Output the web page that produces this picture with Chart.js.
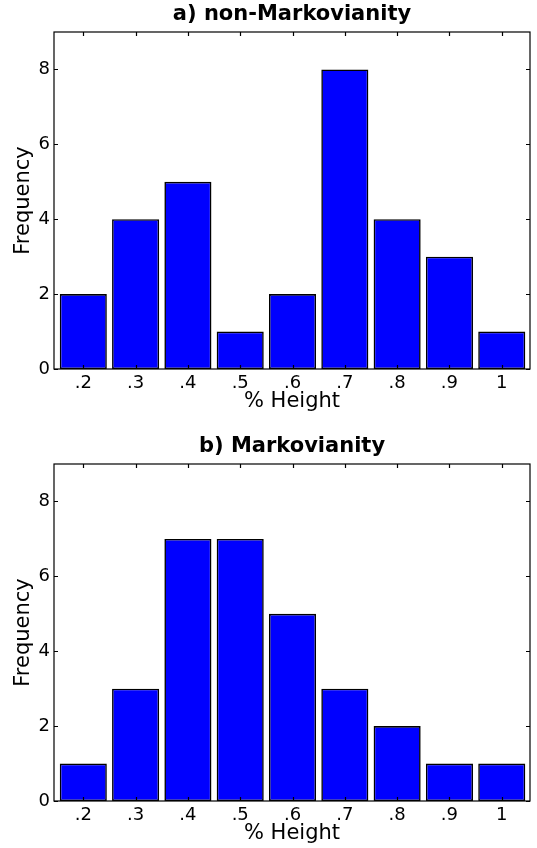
<!DOCTYPE html>
<html lang="en">
<head>
    <meta charset="UTF-8">
    <title>Markovianity histograms</title>
    <script src="https://cdn.jsdelivr.net/npm/chart.js"></script>
    <style>
        html, body {
            margin: 0;
            padding: 0;
            background: #fff;
            overflow: hidden;
            width: 537px;
            height: 848px;
        }
        canvas {
            position: absolute;
            left: 0;
        }
        #chartA { top: 0; }
        #chartB { top: 432px; }
    </style>
</head>
<body>
    <canvas id="chartA" width="537" height="432"></canvas>
    <canvas id="chartB" width="537" height="432"></canvas>

    <script>
        // bin centres (% height) and their tick labels
        const bins = [0.2, 0.3, 0.4, 0.5, 0.6, 0.7, 0.8, 0.9, 1.0];
        const binLabels = ['.2', '.3', '.4', '.5', '.6', '.7', '.8', '.9', '1'];
        // frequencies
        const countsNonMarkov = [2, 4, 5, 1, 2, 8, 4, 3, 1];
        const countsMarkov = [1, 3, 7, 7, 5, 3, 2, 1, 1];
        const yTicks = [0, 2, 4, 6, 8];

        const FONT = "'DejaVu Sans', sans-serif";

        // box around the axes with matplotlib style inward ticks
        const framePlugin = {
            id: 'frame',
            afterDatasetsDraw(chart) {
                const { ctx, chartArea: a, scales: { x, y } } = chart;
                ctx.save();
                ctx.strokeStyle = '#000';
                ctx.lineWidth = 1.2;
                ctx.beginPath();
                x.ticks.forEach(t => {
                    const px = Math.round(x.getPixelForValue(t.value)) + 0.5;
                    ctx.moveTo(px, a.bottom); ctx.lineTo(px, a.bottom - 4);
                    ctx.moveTo(px, a.top); ctx.lineTo(px, a.top + 4);
                });
                y.ticks.forEach(t => {
                    const py = Math.round(y.getPixelForValue(t.value)) + 0.5;
                    ctx.moveTo(a.left, py); ctx.lineTo(a.left + 4, py);
                    ctx.moveTo(a.right, py); ctx.lineTo(a.right - 4, py);
                });
                ctx.stroke();
                ctx.strokeRect(a.left, a.top, a.right - a.left, a.bottom - a.top);
                ctx.restore();
            }
        };

        function makeHist(id, title, counts) {
            const ctx = document.getElementById(id).getContext('2d');
            return new Chart(ctx, {
                type: 'bar',
                data: {
                    datasets: [{
                        data: bins.map((b, i) => ({ x: b, y: counts[i] })),
                        backgroundColor: '#0000ff',
                        borderColor: '#000',
                        borderWidth: 1.6,
                        borderSkipped: false,
                        barPercentage: 0.9,
                        categoryPercentage: 1.0
                    }]
                },
                options: {
                    responsive: false,
                    animation: false,
                    layout: { padding: { left: 0, right: 7, top: 0, bottom: 0 } },
                    plugins: {
                        legend: { display: false },
                        tooltip: { enabled: false },
                        title: {
                            display: true,
                            text: title,
                            fullSize: false,
                            color: '#000',
                            font: { family: FONT, size: 21, weight: 'bold', lineHeight: 1.2 },
                            padding: { top: 2.4, bottom: 4.4 }
                        }
                    },
                    scales: {
                        x: {
                            type: 'linear',
                            offset: false,
                            min: 0.144,
                            max: 1.054,
                            grid: { display: false, drawTicks: false },
                            border: { display: false },
                            afterBuildTicks: s => { s.ticks = bins.map(v => ({ value: v })); },
                            afterFit: s => { s.height = 63; },
                            ticks: {
                                color: '#000',
                                padding: 4,
                                maxRotation: 0,
                                font: { family: FONT, size: 18 },
                                callback: (v, i) => binLabels[i]
                            },
                            title: {
                                display: true,
                                text: '% Height',
                                color: '#000',
                                font: { family: FONT, size: 21, lineHeight: 1.2 },
                                padding: { top: 0, bottom: 17.9 }
                            }
                        },
                        y: {
                            min: 0,
                            max: 9,
                            grid: { display: false, drawTicks: false },
                            border: { display: false },
                            afterBuildTicks: s => { s.ticks = yTicks.map(v => ({ value: v })); },
                            afterFit: s => { s.width = 54; },
                            ticks: {
                                color: '#000',
                                padding: 4,
                                font: { family: FONT, size: 18 }
                            },
                            title: {
                                display: true,
                                text: 'Frequency',
                                color: '#000',
                                font: { family: FONT, size: 21, lineHeight: 1.2 },
                                padding: { top: 11, bottom: 0 }
                            }
                        }
                    }
                },
                plugins: [framePlugin]
            });
        }

        makeHist('chartA', 'a) non-Markovianity', countsNonMarkov);
        makeHist('chartB', 'b) Markovianity', countsMarkov);
    </script>
</body>
</html>
